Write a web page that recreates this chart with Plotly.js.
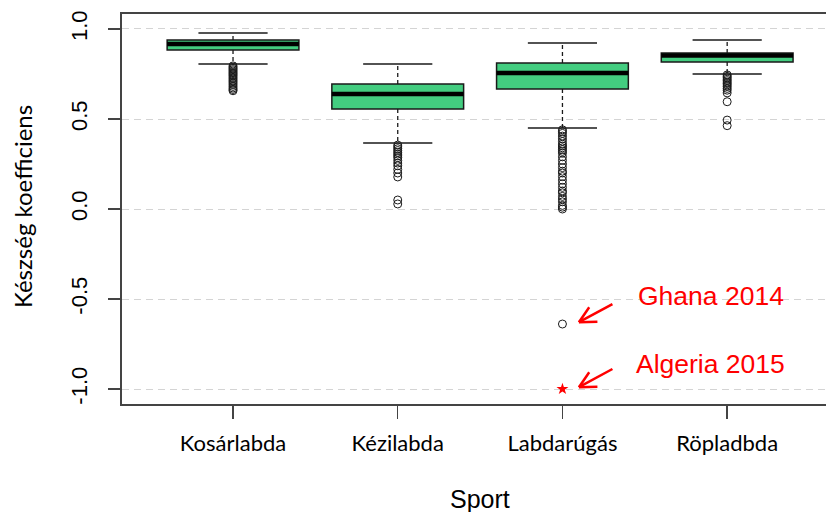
<!DOCTYPE html>
<html>
<head>
<meta charset="utf-8">
<script src="https://cdn.plot.ly/plotly-3.0.1.min.js"></script>
<style>html,body{margin:0;padding:0;background:#fff;}#chart{width:826px;height:512px;}</style>
</head>
<body>
<div id="chart"></div>
<script>
// ---- data ----
var categories = ['Kosárlabda', 'Kézilabda', 'Labdarúgás', 'Röpladbda'];
var lowerWhisker = [0.805, 0.367, 0.45, 0.75];
var q1Values = [0.883, 0.556, 0.667, 0.817];
var medianValues = [0.917, 0.639, 0.756, 0.853];
var q3Values = [0.939, 0.694, 0.811, 0.867];
var upperWhisker = [0.978, 0.805, 0.922, 0.939];

var outliersKosar = [0.795, 0.788, 0.781, 0.774, 0.767, 0.76, 0.753, 0.746, 0.739, 0.731, 0.723, 0.715, 0.707, 0.699, 0.69, 0.681, 0.672, 0.664, 0.657];
var outliersKezi = [0.355, 0.345, 0.335, 0.325, 0.315, 0.305, 0.295, 0.285, 0.27, 0.255, 0.24, 0.22, 0.2, 0.178, 0.05, 0.028];
var outliersLabda = [0.44, 0.43, 0.42, 0.405, 0.39, 0.375, 0.36, 0.35, 0.34, 0.33, 0.32, 0.31, 0.29, 0.27, 0.25, 0.23, 0.21, 0.2, 0.18, 0.16, 0.14, 0.12, 0.1, 0.09, 0.07, 0.055, 0.04, 0.02, 0.01, 0.0, -0.639];
var outliersRop = [0.745, 0.737, 0.729, 0.721, 0.713, 0.705, 0.697, 0.689, 0.68, 0.67, 0.66, 0.645, 0.596, 0.494, 0.463];
var outlierLists = [outliersKosar, outliersKezi, outliersLabda, outliersRop];

var highlightCategory = 'Labdarúgás';
var highlightValue = [-1.0];
var highlightLabels = ['Ghana 2014', 'Algeria 2015'];
var highlightLabelValues = [-0.639, -1.0];

var yTickVals = [-1, -0.5, 0, 0.5, 1];
var yTickText = ['-1.0', '-0.5', '0.0', '0.5', '1.0'];

// ---- build ----
var pos = categories.map(function (c, i) { return i + 1; });
var traces = [];

traces.push({
  type: 'box', x: pos, q1: q1Values, median: medianValues, q3: q3Values,
  lowerfence: q1Values, upperfence: q3Values, width: 0.8,
  fillcolor: '#43CD80', line: {color: '#1a1a1a', width: 1.5}, whiskerwidth: 0,
  boxpoints: false, showlegend: false, hoverinfo: 'skip'
});

var wx = [], wy = [], cx = [], cy = [], mx = [], my = [];
pos.forEach(function (p, i) {
  wx.push(p, p, null, p, p, null);
  wy.push(q3Values[i], upperWhisker[i], null, q1Values[i], lowerWhisker[i], null);
  cx.push(p - 0.21, p + 0.21, null, p - 0.21, p + 0.21, null);
  cy.push(upperWhisker[i], upperWhisker[i], null, lowerWhisker[i], lowerWhisker[i], null);
  mx.push(p - 0.4, p + 0.4, null);
  my.push(medianValues[i], medianValues[i], null);
});
traces.push({type: 'scatter', mode: 'lines', x: wx, y: wy, line: {color: '#1a1a1a', width: 1.3, dash: '4px,3px'}, showlegend: false, hoverinfo: 'skip'});
traces.push({type: 'scatter', mode: 'lines', x: cx, y: cy, line: {color: '#1a1a1a', width: 1.5}, showlegend: false, hoverinfo: 'skip'});
traces.push({type: 'scatter', mode: 'lines', x: mx, y: my, line: {color: '#000', width: 4.5}, showlegend: false, hoverinfo: 'skip'});

var ox = [], oy = [];
outlierLists.forEach(function (lst, i) {
  lst.forEach(function (v) { ox.push(pos[i]); oy.push(v); });
});
traces.push({type: 'scatter', mode: 'markers', x: ox, y: oy,
  marker: {symbol: 'circle-open', size: 8, color: '#1a1a1a', line: {width: 1}},
  showlegend: false, hoverinfo: 'skip'});

var hPos = categories.indexOf(highlightCategory) + 1;
traces.push({type: 'scatter', mode: 'markers', x: highlightValue.map(function () { return hPos; }), y: highlightValue,
  marker: {symbol: 'star', size: 9, color: '#ff0000'}, showlegend: false, hoverinfo: 'skip'});

// annotations
var annotations = [];
var textY = [-0.483, -0.861];
var arrowTail = {ax: 35, ay: -19};
var headLen = 20, headAng = 27 * Math.PI / 180;
var theta = Math.atan2(arrowTail.ay, arrowTail.ax);
highlightLabels.forEach(function (lab, k) {
  var tipX = hPos + 0.1, tipY = highlightLabelValues[k] + 0.01;
  annotations.push({x: hPos + 0.9, y: textY[k], xref: 'x', yref: 'y', text: lab, showarrow: false,
    font: {family: 'Liberation Sans, Arial, sans-serif', size: 26.5, color: '#ff0000'}, xanchor: 'center', yanchor: 'middle'});
  annotations.push({x: tipX, y: tipY, xref: 'x', yref: 'y', text: '', showarrow: true, arrowhead: 0,
    arrowwidth: 2.5, arrowcolor: '#ff0000', ax: arrowTail.ax, ay: arrowTail.ay, standoff: 0, startstandoff: 0});
  [-1, 1].forEach(function (s) {
    var phi = theta + s * headAng;
    annotations.push({x: tipX, y: tipY, xref: 'x', yref: 'y', text: '', showarrow: true, arrowhead: 0,
      arrowwidth: 2.5, arrowcolor: '#ff0000', ax: headLen * Math.cos(phi), ay: headLen * Math.sin(phi), standoff: 0});
  });
});
annotations.push({xref: 'paper', yref: 'paper', x: 0.509, y: -0.243, text: 'Sport', showarrow: false,
  font: {family: 'Liberation Sans, Arial, sans-serif', size: 25, color: '#000'}, xanchor: 'center', yanchor: 'middle'});
annotations.push({xref: 'paper', yref: 'paper', x: -0.142, y: 0.505, text: 'Készség koefficiens', showarrow: false, textangle: -90,
  font: {family: 'Lato, sans-serif', size: 24, color: '#000'}, xanchor: 'center', yanchor: 'middle'});

var layout = {
  width: 826, height: 512,
  margin: {l: 122, r: 0, t: 14, b: 108},
  paper_bgcolor: '#fff', plot_bgcolor: '#fff',
  showlegend: false,
  xaxis: {
    range: [0.326, 4.6], tickvals: pos, ticktext: categories,
    showline: true, mirror: true, linecolor: '#444', linewidth: 1.6,
    ticks: 'outside', ticklen: 13, tickwidth: 1.4, tickcolor: '#444',
    showgrid: false, zeroline: false, ticklabelstandoff: 6,
    tickfont: {family: 'Lato, sans-serif', size: 22, color: '#000'}
  },
  yaxis: {
    range: [-1.0833, 1.0833], tickvals: yTickVals, ticktext: yTickText,
    showline: true, mirror: false, linecolor: '#444', linewidth: 1.6,
    ticks: 'outside', ticklen: 12, tickwidth: 1.4, tickcolor: '#444',
    tickangle: -90, ticklabelstandoff: 13,
    tickfont: {family: 'Liberation Sans, Arial, sans-serif', size: 22, color: '#000'},
    showgrid: true, gridcolor: '#d4d4d4', gridwidth: 1, griddash: '7px,5px', zeroline: false
  },
  annotations: annotations
};

Plotly.newPlot('chart', traces, layout, {displayModeBar: false, staticPlot: true});
</script>
</body>
</html>
